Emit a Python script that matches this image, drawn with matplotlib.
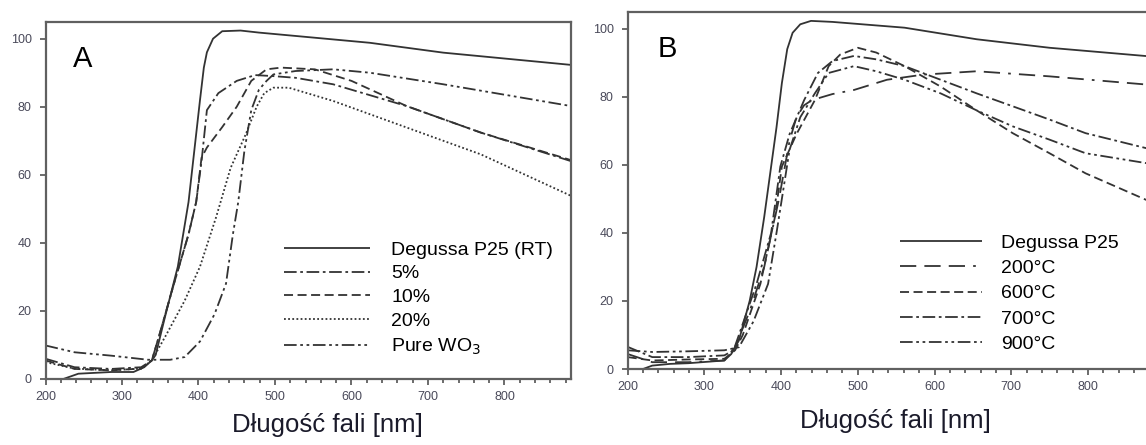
import numpy as np
import matplotlib
matplotlib.use("Agg")
import matplotlib.pyplot as plt
from matplotlib.ticker import MultipleLocator

plt.rcParams['font.family'] = ['Liberation Sans', 'DejaVu Sans']

# ---- panel A : TiO2 / WO3 series ----
a_p25_x = [200, 215, 224, 243, 286, 315, 329, 339, 344, 356, 373, 380, 387, 392, 397, 402, 407, 411, 419, 431, 455, 479, 624, 720, 887]
a_p25_y = [-4, -1.5, 0, 1.5, 2, 2, 3.4, 5.4, 7, 18, 33, 42.5, 52, 62, 72, 82, 91.5, 96, 100, 102.2, 102.4, 101.8, 98.8, 95.9, 92.3]

a_5_x = [200, 238, 286, 325, 339, 349, 368, 387, 397, 404, 411, 426, 450, 474, 498, 527, 576, 672, 769, 887]
a_5_y = [5.9, 3.4, 2.9, 3.4, 5.4, 13, 28, 42.5, 52, 64, 79, 84, 87.6, 89.3, 89, 88.5, 86.6, 80.2, 72.4, 64]

a_10_x = [200, 238, 286, 325, 339, 349, 368, 387, 397, 404, 411, 431, 450, 469, 489, 508, 552, 600, 672, 769, 887]
a_10_y = [5.4, 2.9, 2.5, 3, 5.4, 13, 28, 42.5, 52, 65, 68, 74, 80, 87.6, 91, 91.5, 91, 87.6, 80.2, 72.4, 64.3]

a_20_x = [200, 238, 286, 325, 339, 358, 382, 402, 423, 442, 462, 476, 486, 498, 518, 576, 672, 769, 887]
a_20_y = [4.9, 3, 2.5, 3, 5.4, 13, 23, 33, 47.5, 62, 72, 80, 84, 85.6, 85.6, 81.7, 73.9, 66, 53.8]

a_wo3_x = [200, 238, 286, 334, 363, 382, 402, 421, 436, 445, 452, 460, 469, 479, 489, 498, 527, 576, 624, 720, 887]
a_wo3_y = [9.8, 7.8, 6.8, 5.6, 5.6, 6.4, 11, 19, 28, 42.5, 52, 67, 79, 85, 87.6, 89.5, 90.5, 91, 90, 86.6, 80.2]

# ---- panel B : calcination temperature ----
b_p25_x = [200, 220, 232, 255, 279, 326, 335, 345, 359, 368, 378, 387, 394, 401, 408, 415, 425, 439, 467, 561, 655, 750, 900]
b_p25_y = [-3, 0, 1, 1.5, 1.7, 2.5, 4.4, 8.4, 20, 30, 44.7, 59.5, 71, 84, 94, 98.8, 101.3, 102.3, 102, 100.3, 96.9, 94.4, 91.5]

b_200_x = [200, 232, 279, 326, 340, 359, 378, 397, 411, 420, 430, 440, 452, 467, 495, 538, 585, 655, 750, 876, 900]
b_200_y = [4.4, 2, 2, 2.5, 6.4, 17, 30, 49.7, 67, 74, 77.5, 79, 79.8, 80.8, 82, 85, 86.5, 87.5, 86, 83.6, 83.1]

b_600_x = [200, 232, 279, 326, 340, 350, 373, 392, 401, 420, 444, 462, 477, 500, 524, 561, 608, 655, 702, 750, 797, 876, 900]
b_600_y = [3.5, 2.5, 2.8, 3, 5.5, 10, 25, 44.7, 59.5, 69, 79, 89, 92.4, 94.4, 93, 89, 83, 76, 69.3, 63.4, 57.5, 49.7, 47.3]

b_700_x = [200, 232, 279, 326, 338, 345, 368, 387, 399, 411, 430, 448, 467, 495, 524, 561, 608, 655, 702, 750, 797, 876, 900]
b_700_y = [6.5, 3.5, 3.5, 4, 5.5, 10, 25, 40, 59.5, 69, 79, 87, 90.5, 92, 91, 89, 85, 81, 77.2, 73.3, 69.3, 64.9, 63.6]

b_900_x = [200, 232, 279, 326, 345, 364, 383, 394, 401, 411, 425, 444, 462, 495, 524, 561, 608, 655, 702, 750, 797, 876, 900]
b_900_y = [5.5, 5, 5.2, 5.5, 6.4, 14, 25, 40, 50, 64.4, 74, 81, 87, 89, 87.5, 85, 81, 76, 71.3, 67.4, 63.4, 60.5, 59.6]

labels_a = ['Degussa P25 (RT)', '5%', '10%', '20%', 'Pure WO$_3$']
labels_b = ['Degussa P25', '200°C', '600°C', '700°C', '900°C']

solid = '-'
dashdot = (0, (7, 2, 1.5, 2))
dashed = (0, (5, 2.5))
dotted = (0, (1, 1.3))
dashdotdot = (0, (7, 2, 1.5, 2, 1.5, 2))
longdash = (0, (9, 4.5, 9, 4.5, 9, 4.5, 1.5, 4.5))

line_col = '#333333'
frame_col = '#606060'
tick_col = '#4a4a5a'

W, H = 1146, 445
fig = plt.figure(figsize=(W / 100, H / 100), dpi=100)


def px_axes(left, top, right, bottom):
    return fig.add_axes([left / W, 1 - bottom / H, (right - left) / W, (bottom - top) / H])


def style(ax, xmax):
    ax.set_xlim(200, xmax)
    ax.set_ylim(0, 105)
    ax.xaxis.set_minor_locator(MultipleLocator(20))
    ax.set_xticks([200, 300, 400, 500, 600, 700, 800])
    ax.set_yticks([0, 20, 40, 60, 80, 100])
    ax.tick_params(which='both', direction='out', color=frame_col, width=1.3,
                   labelsize=9, labelcolor=tick_col)
    ax.tick_params(axis='x', which='major', length=4, pad=5)
    ax.tick_params(axis='x', which='minor', length=3)
    ax.tick_params(axis='y', which='major', length=4, pad=6)
    for s in ax.spines.values():
        s.set_color(frame_col)
        s.set_linewidth(1.6)
    ax.set_xlabel('Długość fali [nm]', fontsize=18.5, color='#1a1a2a', va='top')


# panel A
axA = px_axes(45.5, 21.7, 571, 378.8)
series_a = [(a_p25_x, a_p25_y, solid), (a_5_x, a_5_y, dashdot), (a_10_x, a_10_y, dashed),
            (a_20_x, a_20_y, dotted), (a_wo3_x, a_wo3_y, dashdotdot)]
for (x, y, ls), lab in zip(series_a, labels_a):
    axA.plot(x, y, color=line_col, lw=1.3, linestyle=ls, label=lab,
             solid_capstyle='butt', dash_capstyle='butt')
style(axA, 887)
axA.xaxis.set_label_coords((327 - 45.5) / 525.5, (378.8 - 413) / 357.1)
axA.text(0.053, 0.935, 'A', transform=axA.transAxes, fontsize=21, va='top', ha='left')
axA.legend(loc='upper left', bbox_to_anchor=(238 / 525.5, (378.8 - 241) / 357.1), frameon=False,
           fontsize=14, handlelength=4.45, handletextpad=1.1, labelspacing=0.32,
           borderpad=0, borderaxespad=0)

# panel B (right edge runs off the canvas)
axB = px_axes(627.7, 11.7, 1164.6, 369)
series_b = [(b_p25_x, b_p25_y, solid), (b_200_x, b_200_y, longdash), (b_600_x, b_600_y, dashed),
            (b_700_x, b_700_y, dashdot), (b_900_x, b_900_y, dashdotdot)]
for (x, y, ls), lab in zip(series_b, labels_b):
    axB.plot(x, y, color=line_col, lw=1.3, linestyle=ls, label=lab,
             solid_capstyle='butt', dash_capstyle='butt')
style(axB, 900)
axB.xaxis.set_label_coords((895 - 627.7) / 536.9, (369 - 409) / 357.3)
axB.text(0.055, 0.935, 'B', transform=axB.transAxes, fontsize=21, va='top', ha='left')
axB.legend(loc='upper left', bbox_to_anchor=((900 - 627.7) / 536.9, (369 - 234) / 357.3), frameon=False,
           fontsize=14, handlelength=4.2, handletextpad=1.0, labelspacing=0.4,
           borderpad=0, borderaxespad=0)

fig.savefig('out.png', dpi=100)
